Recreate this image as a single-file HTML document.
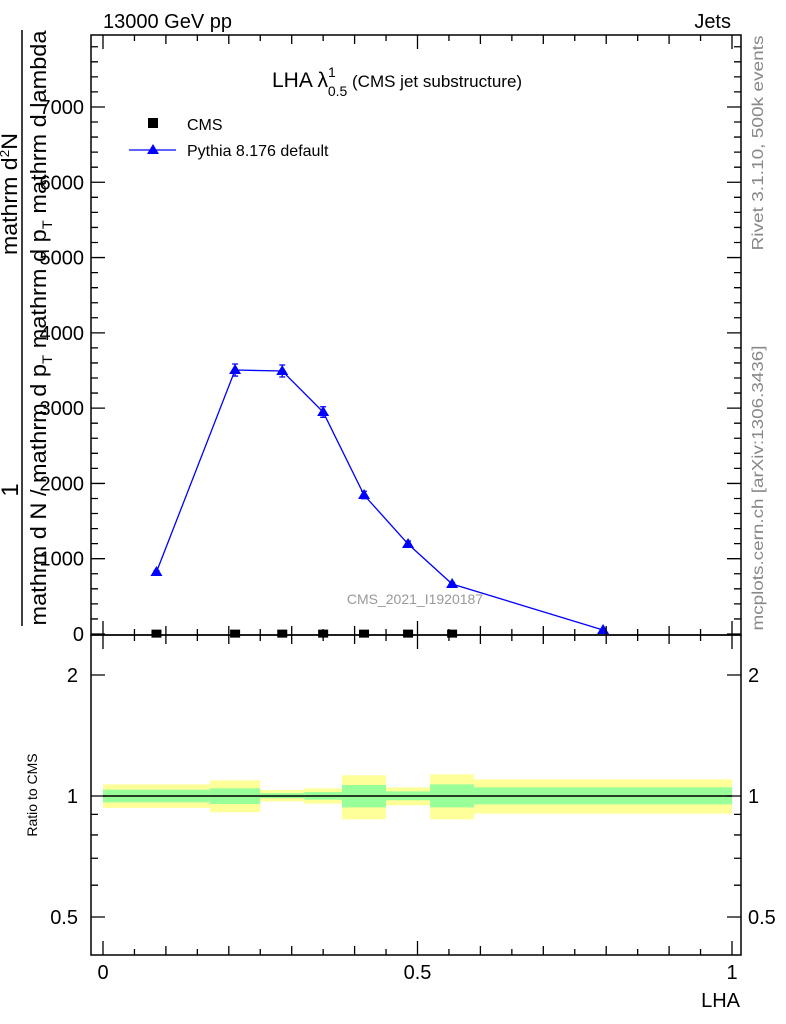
<!DOCTYPE html>
<html><head><meta charset="utf-8"><style>
html,body{margin:0;padding:0;background:#fff;}
svg{display:block;font-family:"Liberation Sans",sans-serif;}
</style></head><body>
<svg id="c" width="786" height="1024" xmlns="http://www.w3.org/2000/svg">
<g id="bands"></g>
<g id="main"></g>
<g id="axes"></g>
<text x="103" y="28" font-size="20">13000 GeV pp</text>
<text x="731" y="28" font-size="20" text-anchor="end">Jets</text>
<text x="272" y="87" font-size="21">LHA λ<tspan font-size="14" dy="-10">1</tspan><tspan font-size="14" dx="-8" dy="19">0.5</tspan><tspan font-size="17" dy="-9"> (CMS jet substructure)</tspan></text>
<rect x="148" y="118" width="10" height="10" fill="#000"/>
<text x="187" y="130" font-size="16">CMS</text>
<line x1="129" y1="150" x2="176" y2="150" stroke="#00f" stroke-width="1.3"/>
<polygon points="153,144 147,154 159,154" fill="#00f"/>
<text x="187" y="156" font-size="16">Pythia 8.176 default</text>
<text x="415" y="604" font-size="14" fill="#999" text-anchor="middle">CMS_2021_I1920187</text>
<text transform="translate(763,143) rotate(-90)" font-size="16" fill="#888" text-anchor="middle" textLength="215" lengthAdjust="spacingAndGlyphs">Rivet 3.1.10,  500k events</text>
<text transform="translate(763,488) rotate(-90)" font-size="16" fill="#888" text-anchor="middle" textLength="285" lengthAdjust="spacingAndGlyphs">mcplots.cern.ch [arXiv:1306.3436]</text>
<line x1="22" y1="30" x2="22" y2="626" stroke="#000" stroke-width="1.5"/>
<text transform="translate(18,490) rotate(-90)" font-size="24" text-anchor="middle">1</text>
<text transform="translate(17,194) rotate(-90)" font-size="22" text-anchor="middle" textLength="122" lengthAdjust="spacingAndGlyphs">mathrm d<tspan font-size="13" dy="-8">2</tspan><tspan dy="8">N</tspan></text>
<text transform="translate(46,328) rotate(-90)" font-size="22" text-anchor="middle" textLength="595" lengthAdjust="spacingAndGlyphs">mathrm d N / mathrm d p<tspan font-size="14" dy="6">T</tspan><tspan dy="-6"> mathrm d p</tspan><tspan font-size="14" dy="6">T</tspan><tspan dy="-6"> mathrm d lambda</tspan></text>
<text transform="translate(37,795) rotate(-90)" font-size="14" text-anchor="middle">Ratio to CMS</text>
<text x="740" y="1007" font-size="20" text-anchor="end">LHA</text>
</svg>
<script>
const binEdges=[0,0.17,0.25,0.32,0.38,0.45,0.52,0.59,1.0];
const pythiaValues=[823,3506,3493,2948,1846,1195,664,53];
const pythiaErrors=[20,80,80,70,50,40,20,10];
const cmsValues=[5,5,5,5,5,5,5,null];
const yellowHi=[1.069,1.094,1.035,1.045,1.126,1.051,1.132,1.100];
const yellowLo=[0.934,0.911,0.970,0.957,0.875,0.948,0.875,0.904];
const greenHi=[1.037,1.045,1.017,1.023,1.065,1.027,1.069,1.051];
const greenLo=[0.964,0.955,0.987,0.979,0.937,0.976,0.937,0.953];
const yTicks=[0,1000,2000,3000,4000,5000,6000,7000];
const xTickLabels=[0,0.5,1];
const ratioTicks=[0.5,1,2];

const NS='http://www.w3.org/2000/svg';
const L=91,R=741,T=35,MB=635,RB=955;
const X=v=>103+629*v;
const Y=v=>634-v*0.07529;
const RY=r=>796-121*Math.log2(r);
function mk(tag,attrs,parent){const e=document.createElementNS(NS,tag);for(const k in attrs)e.setAttribute(k,attrs[k]);parent.appendChild(e);return e;}
const bands=document.getElementById('bands'),main=document.getElementById('main'),axes=document.getElementById('axes');

for(let i=0;i<binEdges.length-1;i++){
  const x0=X(binEdges[i]),x1=X(binEdges[i+1]);
  const yb=mk('rect',{x:x0,y:RY(yellowHi[i]),width:x1-x0,height:RY(yellowLo[i])-RY(yellowHi[i]),fill:'#ffff99'},bands);
  
  
  const gb=mk('rect',{x:x0,y:RY(greenHi[i]),width:x1-x0,height:RY(greenLo[i])-RY(greenHi[i]),fill:'#99ff99'},bands);
  
  
}
const rl=mk('line',{x1:X(0),x2:X(1),y1:RY(1),y2:RY(1),stroke:'#000','stroke-width':1.5},bands);



const mids=binEdges.slice(0,-1).map((e,i)=>(e+binEdges[i+1])/2);
const pts=pythiaValues.map((v,i)=>X(mids[i])+','+Y(v)).join(' ');
const pl=mk('polyline',{points:pts,fill:'none',stroke:'#00f','stroke-width':1.3},main);


pythiaValues.forEach((v,i)=>{
  const x=X(mids[i]),y=Y(v);
  const eb=mk('path',{d:`M${x},${Y(v+pythiaErrors[i])}V${Y(v-pythiaErrors[i])}M${x-3},${Y(v+pythiaErrors[i])}h6M${x-3},${Y(v-pythiaErrors[i])}h6`,stroke:'#00f','stroke-width':1.3,fill:'none'},main);
  
  
  const m=mk('polygon',{points:`${x},${y-6} ${x-6},${y+4} ${x+6},${y+4}`,fill:'#00f'},main);
  
  
});
cmsValues.forEach((v,i)=>{
  if(v===null)return;
  const x=X(mids[i]),y=Y(v);
  const m=mk('rect',{x:x-5,y:y-4,width:10,height:8,fill:'#000'},main);
  
  
});

const f1=mk('rect',{x:L,y:T,width:R-L,height:MB-T,fill:'none',stroke:'#000','stroke-width':1.5},axes);


const f2=mk('rect',{x:L,y:MB,width:R-L,height:RB-MB,fill:'none',stroke:'#000','stroke-width':1.5},axes);


let d='';
for(let k=0;k<=20;k++){
  const v=k*0.05,x=X(v);
  const len=(k%10===0)?14:(k%2===0?9:6);
  d+=`M${x},${T}v${len}M${x},${MB}v${-len}M${x},${MB}v${len}M${x},${RB}v${-len}`;
}
for(let v=0;v<=7800;v+=200){
  const y=Y(v);if(y<T)break;
  const len=(v%1000===0)?14:7;
  d+=`M${L},${y}h${len}M${R},${y}h${-len}`;
}
const rmin=[0.4,0.5,0.6,0.7,0.8,0.9,1,2];
rmin.forEach(r=>{const y=RY(r);if(y>RB||y<MB)return;const len=ratioTicks.includes(r)?14:7;d+=`M${L},${y}h${len}M${R},${y}h${-len}`;});
const tk=mk('path',{d:d,stroke:'#000','stroke-width':1.3,fill:'none'},axes);



yTicks.forEach(v=>{
  const t=mk('text',{x:84,y:Y(v)+7,'font-size':20,'text-anchor':'end'},axes);
  t.textContent=String(v);
  
  
});
xTickLabels.forEach(v=>{
  const t=mk('text',{x:X(v),y:979,'font-size':20,'text-anchor':'middle'},axes);
  t.textContent=String(v);
  
  
});
ratioTicks.forEach(r=>{
  const y=RY(r)+7;
  const a=mk('text',{x:78,y:y,'font-size':20,'text-anchor':'end'},axes);
  a.textContent=String(r);
  
  
  const b=mk('text',{x:748,y:y,'font-size':20},axes);
  b.textContent=String(r);
  
  
});
</script>
</body></html>
